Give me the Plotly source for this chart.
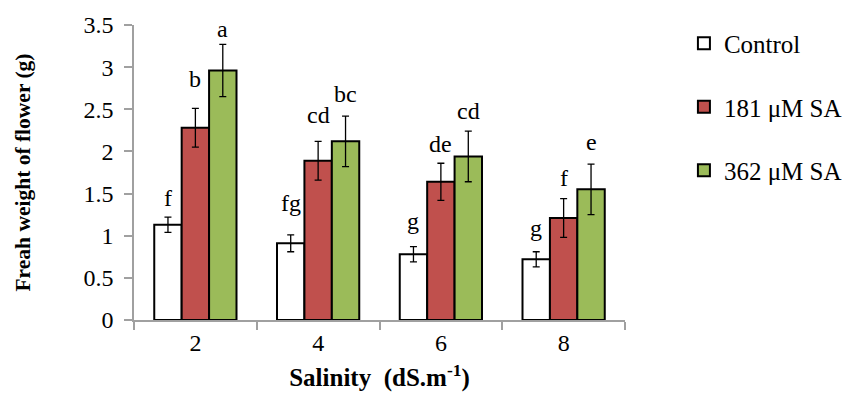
import plotly.graph_objects as go

categories = ["2", "4", "6", "8"]
series_names = ["Control", "181 μM SA", "362 μM SA"]
control = [1.13, 0.91, 0.78, 0.72]
sa181 = [2.28, 1.89, 1.64, 1.21]
sa362 = [2.96, 2.12, 1.94, 1.55]
err_control = [0.09, 0.10, 0.09, 0.09]
err_181 = [0.23, 0.23, 0.22, 0.23]
err_362 = [0.31, 0.30, 0.30, 0.30]
letters_control = ["f", "fg", "g", "g"]
letters_181 = ["b", "cd", "de", "f"]
letters_362 = ["a", "bc", "cd", "e"]
# height (in y-axis units) of each letter's baseline
label_y_control = [1.34, 1.285, 1.07, 0.985]
label_y_181 = [2.75, 2.33, 1.98, 1.58]
label_y_362 = [3.34, 2.57, 2.37, 2.00]
colors = ["#FFFFFF", "#C0504D", "#9BBB59"]

values = [control, sa181, sa362]
errors = [err_control, err_181, err_362]
letters = [letters_control, letters_181, letters_362]
label_y = [label_y_control, label_y_181, label_y_362]

FONT = "Liberation Serif"
bargap = 0.33

fig = go.Figure()
for i in range(3):
    fig.add_trace(go.Bar(
        x=categories, y=values[i], name=series_names[i],
        marker=dict(color=colors[i], line=dict(color="black", width=2)),
        error_y=dict(type="data", array=errors[i], color="black", thickness=1.3, width=3.5),
        legendgroup=f"g{i}",
    ))

bw = (1 - bargap) / 3
annotations = []
for i in range(3):
    for j in range(len(categories)):
        annotations.append(dict(
            x=j + (i - 1) * bw, y=label_y[i][j], xref="x", yref="y",
            text=letters[i][j], showarrow=False, yanchor="bottom", yshift=-6,
            font=dict(family=FONT, size=24, color="black"),
        ))

fig.update_layout(
    width=859, height=397,
    margin=dict(l=134, r=231, t=25, b=77),
    paper_bgcolor="white", plot_bgcolor="white",
    barmode="group", bargap=bargap, bargroupgap=0,
    font=dict(family=FONT, color="black"),
    showlegend=True,
    legend=dict(x=1.12, y=1.015, xanchor="left", yanchor="top",
                font=dict(family=FONT, size=25, color="black"),
                tracegroupgap=28, traceorder="grouped", itemwidth=30),
    annotations=annotations,
)
fig.update_xaxes(
    type="category", showline=True, linecolor="#A0A0A0", linewidth=1.5, automargin=False,
    ticks="outside", tickson="boundaries", ticklen=8, tickcolor="#A0A0A0", tickwidth=1.5,
    tickfont=dict(family=FONT, size=24, color="black"),
    title=dict(text="<b>Salinity  (dS.m<sup>-1</sup>)</b>", font=dict(family=FONT, size=25, color="black"), standoff=14),
    showgrid=False,
)
fig.update_yaxes(
    range=[0, 3.5], dtick=0.5, showline=True, linecolor="#A0A0A0", linewidth=1.5, automargin=False,
    ticks="outside", ticklen=8, tickcolor="#A0A0A0", tickwidth=1.5, ticklabelstandoff=6,
    tickfont=dict(family=FONT, size=24, color="black"),
    title=dict(text="<b>Freah weight of flower (g)</b>", font=dict(family=FONT, size=21.5, color="black"), standoff=47),
    showgrid=False, zeroline=False,
)

fig.write_html("out.html")
